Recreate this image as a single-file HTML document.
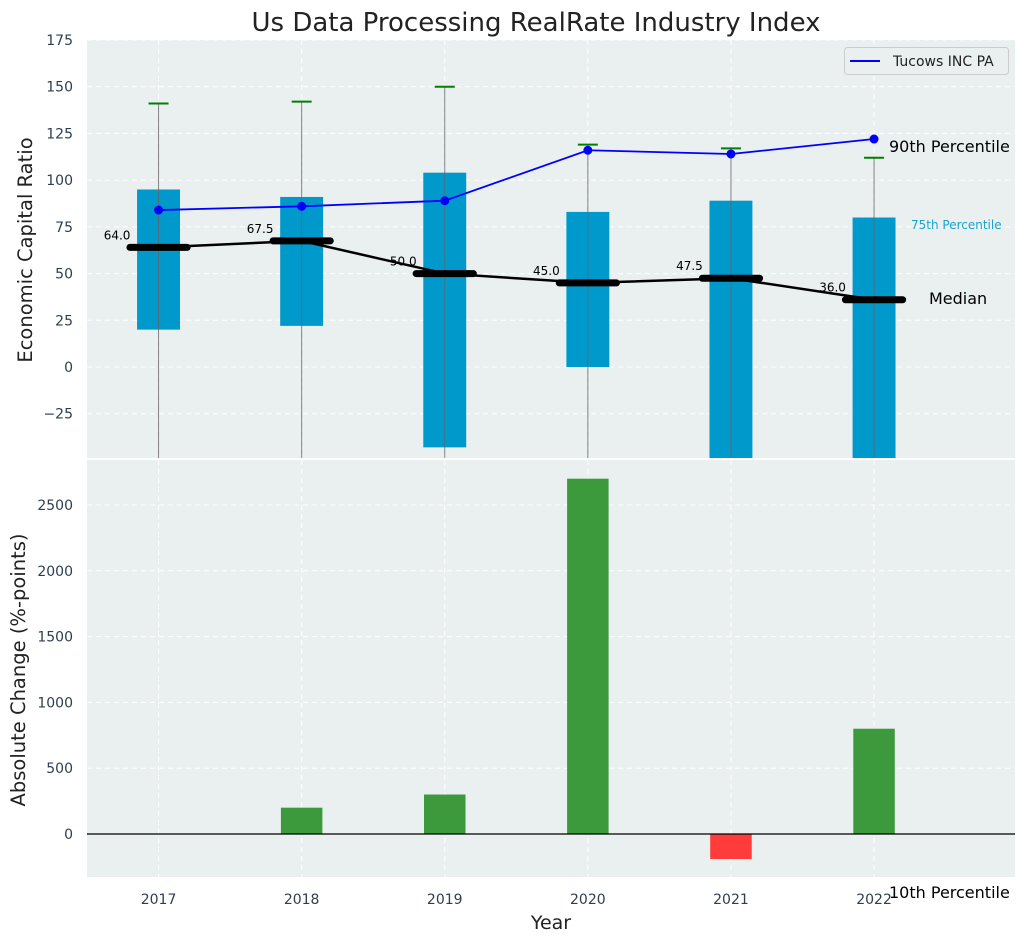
<!DOCTYPE html>
<html><head><meta charset="utf-8"><style>
body{margin:0;background:#fff;}
svg{display:block;font-family:"DejaVu Sans","Liberation Sans",sans-serif;}
</style></head><body>
<svg id="c" width="1026" height="942" xmlns="http://www.w3.org/2000/svg"></svg>
<script>
const years=[2017,2018,2019,2020,2021,2022];
const boxLow=[20,22,-43,0,-60,-60];
const boxHigh=[95,91,104,83,89,80];
const whiskerTop=[141,142,150,119,117,112];
const whiskerBottom=[-60,-60,-60,-60,-60,-60];
const medians=[64,67.5,50,45,47.5,36];
const company=[84,86,89,116,114,122];
const changes=[0,200,300,2700,-190,800];
const topTicks=[-25,0,25,50,75,100,125,150,175];
const botTicks=[0,500,1000,1500,2000,2500];

const NS="http://www.w3.org/2000/svg";
const svg=document.getElementById('c');
function el(t,a,p){const e=document.createElementNS(NS,t);for(const k in a)e.setAttribute(k,a[k]);(p||svg).appendChild(e);return e;}
const L=87,R=1015;
const X=v=>L+(v-2016.5)/(2022.985-2016.5)*(R-L);
const T0=40,T1=458,B0=460,B1=877;
const Yt=v=>367-(v)*(327/175);
const Yb=v=>834-v*(329/2500);

let r=el('rect',{x:L,y:T0,width:R-L,height:T1-T0,fill:'#eaeff0'});

r=el('rect',{x:L,y:B0,width:R-L,height:B1-B0,fill:'#eaeff0'});


const clipT=el('clipPath',{id:'ct'});el('rect',{x:L,y:T0,width:R-L,height:T1-T0},clipT);
const clipB=el('clipPath',{id:'cb'});el('rect',{x:L,y:B0,width:R-L,height:B1-B0},clipB);
const gT=el('g',{'clip-path':'url(#ct)'});
const gB=el('g',{'clip-path':'url(#cb)'});

topTicks.forEach(t=>{el('line',{x1:L,x2:R,y1:Yt(t),y2:Yt(t),stroke:'#fff','stroke-dasharray':'5,4','stroke-width':1},gT);});
botTicks.forEach(t=>{el('line',{x1:L,x2:R,y1:Yb(t),y2:Yb(t),stroke:'#fff','stroke-dasharray':'5,4','stroke-width':1},gB);});
years.forEach(y=>{
 el('line',{x1:X(y),x2:X(y),y1:T0,y2:T1,stroke:'#fff','stroke-dasharray':'5,4'},gT);
 el('line',{x1:X(y),x2:X(y),y1:B0,y2:B1,stroke:'#fff','stroke-dasharray':'5,4'},gB);
});

topTicks.forEach(t=>{const tx=el('text',{x:73,y:Yt(t)+5,'text-anchor':'end','font-size':14,fill:'#2e3e50'});tx.textContent=t<0?'\u2212'+(-t):t;
});
botTicks.forEach(t=>{const tx=el('text',{x:73,y:Yb(t)+5,'text-anchor':'end','font-size':14,fill:'#2e3e50'});tx.textContent=t;
});
years.forEach(y=>{const tx=el('text',{x:X(y),y:904,'text-anchor':'middle','font-size':14,fill:'#2e3e50'});tx.textContent=y;
});

const bw=(X(2017.15)-X(2017));
years.forEach((y,i)=>{
 const b=el('rect',{x:X(y)-bw,y:Yt(boxHigh[i]),width:2*bw,height:Yt(boxLow[i])-Yt(boxHigh[i]),fill:'#0099cc'},gT);
 
 const w=el('line',{x1:X(y),x2:X(y),y1:Yt(whiskerBottom[i]),y2:Yt(whiskerTop[i]),stroke:'#666','stroke-width':1,opacity:0.8},gT);
 
 const c=el('line',{x1:X(y)-10,x2:X(y)+10,y1:Yt(whiskerTop[i]),y2:Yt(whiskerTop[i]),stroke:'#008000','stroke-width':2},gT);
 
});
let pts=years.map((y,i)=>X(y)+','+Yt(medians[i])).join(' ');
let pl=el('polyline',{points:pts,fill:'none',stroke:'#000','stroke-width':2.5},gT);

const mw=X(2017.2)-X(2017);
years.forEach((y,i)=>{
 const m=el('line',{x1:X(y)-mw,x2:X(y)+mw,y1:Yt(medians[i]),y2:Yt(medians[i]),stroke:'#000','stroke-width':7,'stroke-linecap':'round'},gT);
 
 const t=el('text',{x:X(y-0.29),y:Yt(medians[i])-8,'text-anchor':'middle','font-size':12,fill:'#000'});
 t.textContent=medians[i].toFixed(1);
 
});
pts=years.map((y,i)=>X(y)+','+Yt(company[i])).join(' ');
pl=el('polyline',{points:pts,fill:'none',stroke:'#0000ff','stroke-width':1.8},gT);

years.forEach((y,i)=>{const p=el('circle',{cx:X(y),cy:Yt(company[i]),r:4.5,fill:'#0000ff'},gT);
 });

const bbw=X(2017.145)-X(2017);
years.forEach((y,i)=>{
 const v=changes[i];
 const b=el('rect',{x:X(y)-bbw,y:Math.min(Yb(v),Yb(0)),width:2*bbw,height:Math.abs(Yb(v)-Yb(0)),fill:v>=0?'#3c9a3c':'#ff3b3b'},gB);
 
});
el('line',{x1:L,x2:R,y1:Yb(0),y2:Yb(0),stroke:'#000','stroke-width':1.2},gB);
</script>
<svg width="1026" height="942" style="position:absolute;left:0;top:0;font-family:'DejaVu Sans','Liberation Sans',sans-serif" xmlns="http://www.w3.org/2000/svg">
<text x="536" y="31" text-anchor="middle" font-size="26" fill="#222">Us Data Processing RealRate Industry Index</text>
<text transform="translate(32,250) rotate(-90)" text-anchor="middle" font-size="19.5" fill="#222">Economic Capital Ratio</text>
<text transform="translate(25,670) rotate(-90)" text-anchor="middle" font-size="19.5" fill="#222">Absolute Change (%-points)</text>
<text x="551" y="929" text-anchor="middle" font-size="19" fill="#222">Year</text>
<text x="889" y="152" font-size="16" fill="#000">90th Percentile</text>
<text x="911" y="229" font-size="12" fill="#1aa3cc">75th Percentile</text>
<text x="929" y="304" font-size="16" fill="#000">Median</text>
<text x="889" y="898" font-size="16" fill="#000">10th Percentile</text>
<g>
<rect x="844.5" y="47.5" width="164" height="27" rx="3" fill="#eaeff0" stroke="#ccc"/>
<line x1="850" x2="880" y1="61" y2="61" stroke="#0000ff" stroke-width="2"/>
<text x="893" y="66" font-size="14" fill="#222">Tucows INC PA</text>
</g>
</svg>
</body></html>
